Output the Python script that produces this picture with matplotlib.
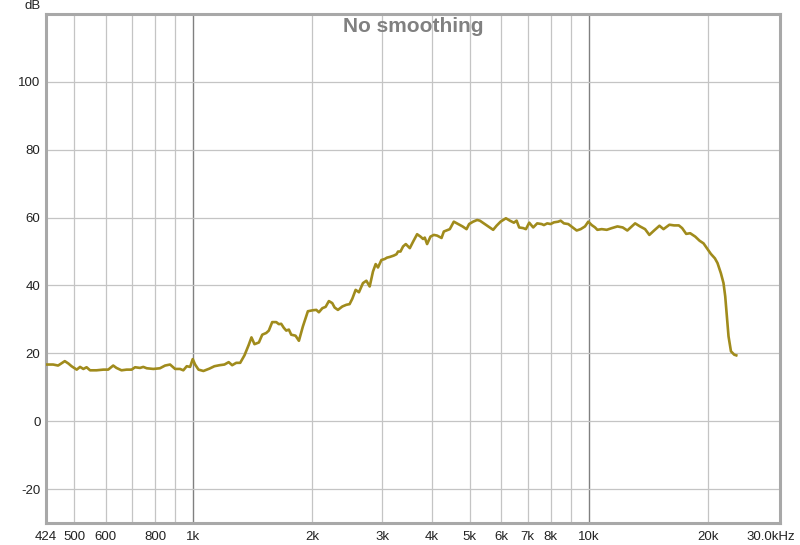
import matplotlib
matplotlib.use("Agg")
import matplotlib.pyplot as plt
from matplotlib.ticker import FixedLocator, FixedFormatter, NullLocator
from matplotlib.transforms import ScaledTranslation

freq_hz = [424, 442, 455, 473, 483, 492, 507, 517, 527, 537, 548, 569, 592, 609, 627, 639,
           658, 678, 698, 712, 733, 747, 762, 792, 823, 848, 873, 899, 925, 943, 962, 981,
           996, 1010, 1030, 1060, 1098, 1130, 1164, 1198, 1228, 1253, 1283, 1313, 1346, 1380,
           1402, 1427, 1464, 1493, 1528, 1551, 1582, 1620, 1644, 1667, 1693, 1717, 1743, 1767,
           1812, 1848, 1891, 1947, 2005, 2045, 2076, 2118, 2159, 2200, 2244, 2275, 2319, 2379,
           2435, 2482, 2522, 2571, 2621, 2683, 2737, 2790, 2844, 2889, 2928, 2987, 3045, 3086,
           3135, 3209, 3261, 3291, 3338, 3389, 3443, 3524, 3592, 3677, 3750, 3807, 3845, 3897,
           3975, 4053, 4131, 4239, 4296, 4363, 4448, 4553, 4669, 4790, 4903, 4977, 5094, 5214,
           5298, 5454, 5616, 5725, 5839, 5977, 6165, 6310, 6459, 6561, 6661, 6819, 6927, 7062,
           7228, 7398, 7591, 7693, 7842, 7998, 8154, 8361, 8479, 8643, 8863, 9094, 9309, 9528,
           9770, 9959, 10160, 10360, 10500, 10770, 11090, 11420, 11800, 12170, 12500, 12750,
           13080, 13460, 13860, 14210, 14610, 15070, 15430, 15970, 16410, 16870, 17200, 17610,
           18020, 18560, 19030, 19480, 19860, 20330, 20810, 21130, 21550, 21880, 22100, 22320,
           22530, 22850, 23290, 23570]
level_db = [16.7, 16.7, 16.4, 17.7, 17.0, 16.2, 15.2, 16.0, 15.4, 15.9, 15.0, 15.0, 15.2, 15.2,
            16.4, 15.7, 15.0, 15.2, 15.2, 15.9, 15.7, 16.0, 15.6, 15.4, 15.6, 16.4, 16.7, 15.4,
            15.4, 15.0, 16.2, 16.0, 18.3, 16.7, 15.2, 14.8, 15.5, 16.2, 16.5, 16.7, 17.4, 16.5,
            17.2, 17.2, 19.4, 22.5, 24.7, 22.7, 23.2, 25.5, 26.0, 26.7, 29.2, 29.2, 28.6, 28.7,
            27.5, 26.7, 27.0, 25.5, 25.2, 23.7, 27.9, 32.4, 32.7, 32.8, 32.1, 33.3, 33.7, 35.4,
            34.8, 33.5, 32.8, 33.8, 34.3, 34.5, 36.1, 38.7, 38.0, 40.7, 41.4, 39.7, 44.1, 46.3,
            45.3, 47.5, 47.8, 48.2, 48.4, 48.8, 49.2, 50.0, 50.0, 51.5, 52.2, 51.0, 52.9, 55.1,
            54.4, 53.7, 54.1, 52.2, 54.4, 54.9, 54.7, 54.0, 55.9, 56.2, 56.6, 58.8, 58.1, 57.4,
            56.6, 58.1, 58.8, 59.3, 59.1, 58.1, 57.1, 56.4, 57.6, 58.8, 59.8, 59.1, 58.5, 59.1,
            57.1, 56.9, 56.6, 58.5, 57.1, 58.3, 58.1, 57.8, 58.3, 58.1, 58.6, 58.8, 59.1, 58.3,
            58.1, 57.1, 56.2, 56.6, 57.4, 58.8, 57.8, 57.1, 56.4, 56.6, 56.4, 56.9, 57.4, 57.1,
            56.2, 57.1, 58.3, 57.4, 56.6, 54.9, 56.2, 57.6, 56.6, 57.9, 57.7, 57.7, 56.9, 55.2,
            55.4, 54.4, 53.2, 52.4, 51.0, 49.3, 48.0, 46.6, 43.6, 40.7, 36.8, 30.9, 25.0, 20.6,
            19.6, 19.4]

x_ticks = [424, 500, 600, 800, 1000, 2000, 3000, 4000, 5000, 6000, 7000, 8000, 10000, 20000, 30000]
x_labels = ["424", "500", "600", "800", "1k", "2k", "3k", "4k", "5k", "6k", "7k", "8k", "10k", "20k", "30.0kHz"]
x_grid = [500, 600, 700, 800, 900, 2000, 3000, 4000, 5000, 6000, 7000, 8000, 9000, 20000]
x_grid_major = [1000, 10000]
y_ticks = [-20, 0, 20, 40, 60, 80, 100]

fig = plt.figure(figsize=(8.0, 5.45), dpi=100)
ax = fig.add_axes([46/800, 22/545, 734/800, 509/545])
ax.set_xscale("log")
ax.set_xlim(424, 30400)
ax.set_ylim(-30, 120)

for g in x_grid:
    ax.axvline(g, color="#c4c4c4", lw=0.9, zorder=1)
for g in x_grid_major:
    ax.axvline(g, color="#808080", lw=1.0, zorder=1)
for g in y_ticks + [120]:
    ax.axhline(g, color="#c4c4c4", lw=0.9, zorder=1)

ax.plot(freq_hz, level_db, color="#a08b1c", lw=1.9, zorder=3, solid_joinstyle="round")

ax.xaxis.set_major_locator(FixedLocator(x_ticks))
ax.xaxis.set_major_formatter(FixedFormatter(x_labels))
ax.xaxis.set_minor_locator(NullLocator())
ax.set_yticks(y_ticks)
ax.set_yticklabels([str(v) for v in y_ticks])
ax.tick_params(axis="both", length=0, labelsize=9.5, colors="#222222")
ax.tick_params(axis="x", pad=6)
ax.tick_params(axis="y", pad=4)
for lab in ax.get_xticklabels() + ax.get_yticklabels():
    lab.set_family("Liberation Sans")
last = ax.get_xticklabels()[-1]
last.set_transform(last.get_transform() + ScaledTranslation(-7/100, 0, fig.dpi_scale_trans))

for s in ax.spines.values():
    s.set_color("#a8a8a8")
    s.set_linewidth(2.2)

ax.text(0.5, 1 - 13/509, "No smoothing", transform=ax.transAxes, ha="center", va="center",
        fontsize=15, fontweight="bold", color="#808080", family="Liberation Sans", zorder=4)
fig.text(33/800, 1 - 6/545, "dB", ha="center", va="center", fontsize=9.5,
         color="#222222", family="Liberation Sans")

fig.savefig("out.png", dpi=100, facecolor="white")
